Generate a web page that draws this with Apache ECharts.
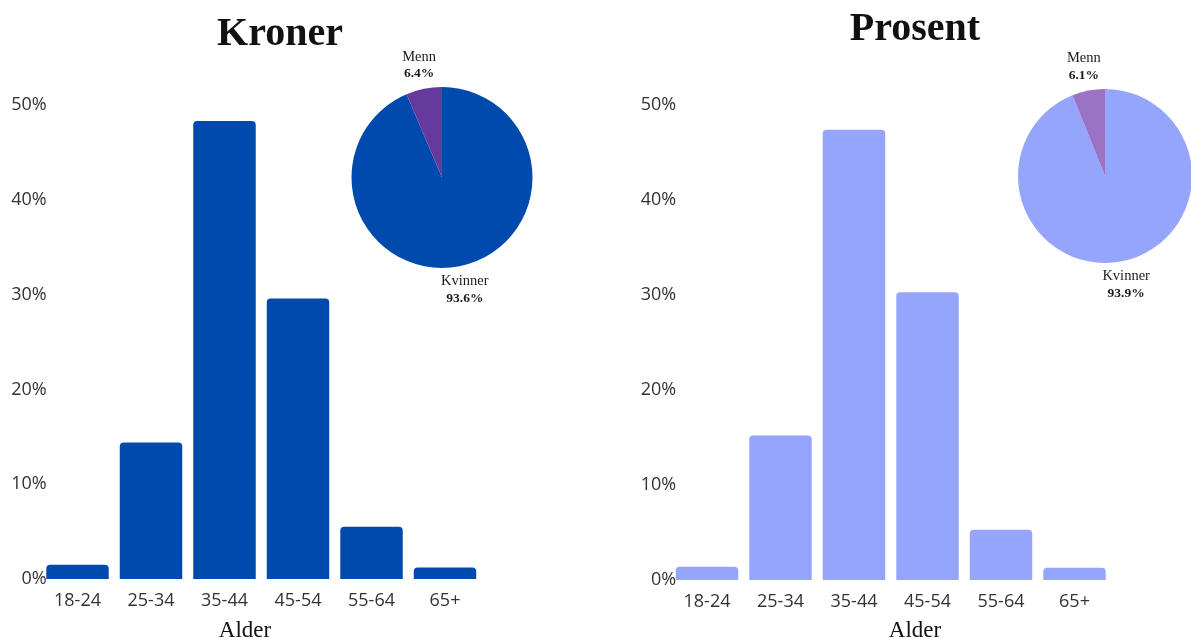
<!DOCTYPE html>
<html>
<head>
<meta charset="utf-8">
<script src="https://cdn.jsdelivr.net/npm/echarts@6/dist/echarts.min.js"></script>
<style>
html,body{margin:0;padding:0;background:#fff;}
#c{width:1191px;height:639px;}
</style>
</head>
<body>
<div id="c"></div>
<script>
// ---- data ----
const categories = ['18-24', '25-34', '35-44', '45-54', '55-64', '65+'];
const kronerShares = [1.5, 14.4, 48.3, 29.6, 5.5, 1.2];
const prosentShares = [1.4, 15.2, 47.4, 30.3, 5.3, 1.3];
const genderLabels = ['Kvinner', 'Menn'];
const kronerGender = [93.6, 6.4];
const prosentGender = [93.9, 6.1];
const yTicks = [0, 10, 20, 30, 40, 50];
const titles = ['Kroner', 'Prosent'];
const axisTitle = 'Alder';

// ---- style / layout ----
const blueDark = '#004AAD', purpleDark = '#653A9C';
const blueLight = '#94A5FB', purpleLight = '#9B72C4';
const tickFont = {fontFamily: '"Open Sans", sans-serif', fontSize: 18, color: '#333'};
const serif = '"Liberation Serif", "DejaVu Serif", serif';

const pies = [
  {center: [442, 177.5], r: 90.5, data: kronerGender, colors: [blueDark, purpleDark]},
  {center: [1105, 176], r: 87, data: prosentGender, colors: [blueLight, purpleLight]}
];

function pieLabelLayout(pieIdx) {
  return function (p) {
    const cfg = pies[pieIdx];
    const total = cfg.data.reduce((a, b) => a + b, 0);
    let cum = 0;
    for (let i = 0; i < p.dataIndex; i++) cum += cfg.data[i];
    const mid = (cum + cfg.data[p.dataIndex] / 2) / total;
    const ang = (90 - mid * 360) * Math.PI / 180;
    const d = cfg.r + 24;
    return {
      x: cfg.center[0] + d * Math.cos(ang),
      y: cfg.center[1] - d * Math.sin(ang),
      align: 'center',
      verticalAlign: 'middle'
    };
  };
}

function makeAxes(idx) {
  return {
    x: {
      type: 'category', gridIndex: idx, data: categories,
      axisLine: {show: false}, axisTick: {show: false},
      axisLabel: Object.assign({margin: 13}, tickFont)
    },
    y: {
      type: 'value', gridIndex: idx, min: yTicks[0], max: yTicks[yTicks.length - 1], interval: 10,
      axisLine: {show: false}, axisTick: {show: false}, splitLine: {show: false},
      axisLabel: Object.assign({margin: -6, formatter: '{value}%'}, tickFont)
    }
  };
}
const a0 = makeAxes(0), a1 = makeAxes(1);

function pieSeries(idx) {
  const cfg = pies[idx];
  return {
    type: 'pie', center: cfg.center, radius: cfg.r, startAngle: 90, clockwise: true,
    silent: true, animation: false,
    itemStyle: {borderWidth: 0},
    label: {
      show: true, position: 'outside', overflow: 'none', width: 80, alignTo: 'none',
      formatter: p => '{n|' + p.name + '}\n{v|' + p.value.toFixed(1) + '%}',
      rich: {
        n: {fontFamily: serif, fontSize: 14.5, color: '#1a1a1a', lineHeight: 17, align: 'center'},
        v: {fontFamily: serif, fontSize: 13.5, fontWeight: 'bold', color: '#1a1a1a', lineHeight: 17, align: 'center'}
      }
    },
    labelLine: {show: false},
    labelLayout: pieLabelLayout(idx),
    data: genderLabels.map((n, i) => ({name: n, value: cfg.data[i], itemStyle: {color: cfg.colors[i]}}))
  };
}

const chart = echarts.init(document.getElementById('c'));
chart.setOption({
  animation: false,
  backgroundColor: '#fff',
  title: [
    {text: titles[0], left: 275, top: 10, textAlign: 'center',
     textStyle: {fontFamily: serif, fontSize: 40, fontWeight: 'bold', color: '#111'}},
    {text: titles[1], left: 910, top: 5, textAlign: 'center',
     textStyle: {fontFamily: serif, fontSize: 40, fontWeight: 'bold', color: '#111'}},
    {text: axisTitle, left: 240, top: 614, textAlign: 'center',
     textStyle: {fontFamily: serif, fontSize: 23, fontWeight: 'normal', color: '#111'}},
    {text: axisTitle, left: 910, top: 614, textAlign: 'center',
     textStyle: {fontFamily: serif, fontSize: 23, fontWeight: 'normal', color: '#111'}}
  ],
  grid: [
    {left: 40.75, width: 441, top: 105, bottom: 60},
    {left: 670.25, width: 441, top: 105, bottom: 59}
  ],
  xAxis: [a0.x, a1.x],
  yAxis: [a0.y, a1.y],
  series: [
    {type: 'bar', xAxisIndex: 0, yAxisIndex: 0, data: kronerShares, barCategoryGap: '15%',
     itemStyle: {color: blueDark, borderRadius: [4, 4, 0, 0]}},
    {type: 'bar', xAxisIndex: 1, yAxisIndex: 1, data: prosentShares, barCategoryGap: '15%',
     itemStyle: {color: blueLight, borderRadius: [4, 4, 0, 0]}},
    pieSeries(0),
    pieSeries(1)
  ]
});
</script>
</body>
</html>
